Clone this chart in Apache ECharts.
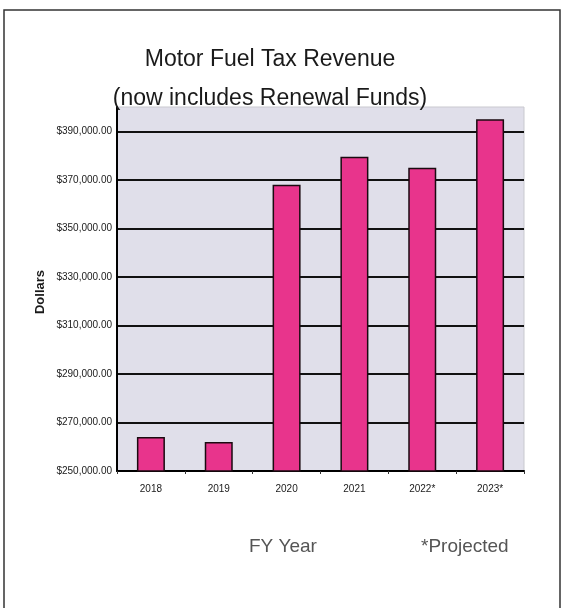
<!DOCTYPE html>
<html>
<head>
<meta charset="utf-8">
<script src="https://cdn.jsdelivr.net/npm/echarts@6/dist/echarts.min.js"></script>
<style>
html,body{margin:0;padding:0;background:#fff;}
#chart{width:561px;height:608px;}
</style>
</head>
<body>
<div id="chart"></div>
<script>
const categories = ['2018', '2019', '2020', '2021', '2022*', '2023*'];
const revenue = [264000, 262000, 368000, 379500, 375000, 395000];
const yMin = 250000;
const yMax = 400000;
const labelStep = 20000;

const NARROW = '"Liberation Sans Narrow", "Arial Narrow", "Liberation Sans", sans-serif';

const chart = echarts.init(document.getElementById('chart'), null, {renderer: 'canvas'});
chart.setOption({
  backgroundColor: '#ffffff',
  animation: false,
  title: {
    text: 'Motor Fuel Tax Revenue\n(now includes Renewal Funds)',
    left: 265,
    textAlign: 'center',
    top: 35,
    textStyle: {
      fontFamily: NARROW,
      fontSize: 23,
      fontWeight: 'normal',
      color: '#1a1a1a',
      lineHeight: 39
    }
  },
  grid: {
    left: 117,
    top: 107,
    right: 37,
    bottom: 137,
    show: true,
    backgroundColor: '#e0dfea',
    borderColor: '#c9c9cf',
    borderWidth: 1
  },
  xAxis: {
    type: 'category',
    data: categories,
    axisLine: {show: true, lineStyle: {color: '#000', width: 2}},
    axisTick: {show: true, length: 3, lineStyle: {color: '#333', width: 1}},
    axisLabel: {
      margin: 13,
      fontFamily: NARROW,
      fontSize: 10,
      color: '#1a1a1a'
    },
    splitLine: {show: false}
  },
  yAxis: {
    type: 'value',
    min: yMin,
    max: yMax,
    interval: labelStep / 2,
    axisLine: {show: true, lineStyle: {color: '#000', width: 2}},
    axisTick: {show: false},
    axisLabel: {
      margin: 5,
      fontFamily: NARROW,
      fontSize: 10,
      color: '#1a1a1a',
      formatter: function (v) {
        if ((v - yMin) % labelStep !== 0 || v >= yMax) return '';
        return '$' + v.toLocaleString('en-US') + '.00';
      }
    },
    splitLine: {
      show: true,
      lineStyle: {color: ['#111111', 'rgba(0,0,0,0)'], width: 2}
    }
  },
  series: [{
    type: 'bar',
    data: revenue,
    barWidth: 28,
    itemStyle: {
      color: '#e8348c',
      borderColor: '#1a0a10',
      borderWidth: 1.5
    }
  }],
  graphic: [
    {
      type: 'rect',
      shape: {x: 4, y: 10, width: 556, height: 620},
      style: {fill: 'none', stroke: '#333', lineWidth: 1.5},
      silent: true
    },
    {
      type: 'text',
      x: 40,
      y: 292,
      rotation: Math.PI / 2,
      style: {
        text: 'Dollars',
        fontFamily: '"Liberation Sans", Arial, sans-serif',
        fontSize: 13,
        fontWeight: 'bold',
        fill: '#1a1a1a',
        textAlign: 'center',
        textVerticalAlign: 'middle'
      }
    },
    {
      type: 'text',
      x: 249,
      y: 547,
      style: {
        text: 'FY Year',
        fontFamily: NARROW,
        fontSize: 19,
        fill: '#555',
        textAlign: 'left',
        textVerticalAlign: 'middle'
      }
    },
    {
      type: 'text',
      x: 421,
      y: 547,
      style: {
        text: '*Projected',
        fontFamily: NARROW,
        fontSize: 19,
        fill: '#555',
        textAlign: 'left',
        textVerticalAlign: 'middle'
      }
    }
  ]
});
</script>
</body>
</html>
